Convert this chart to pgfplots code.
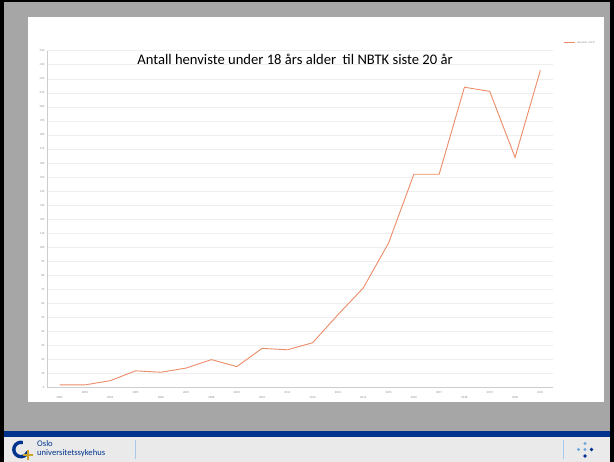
\documentclass[border=0pt]{standalone}
\usepackage{pgfplots}
\pgfplotsset{compat=1.18}
\usepackage{fontspec}
\setmainfont{Carlito}
\definecolor{slidegray}{HTML}{A6A6A6}
\definecolor{footgray}{HTML}{EAEAEA}
\definecolor{ousblue}{HTML}{00338D}
\definecolor{linecol}{HTML}{EC8C68}
\definecolor{gridc}{HTML}{EEEEEE}
\definecolor{tickc}{HTML}{8C8C8C}
\definecolor{lightblue}{HTML}{6CA7DD}
\definecolor{gold}{HTML}{C9A227}
\begin{document}
\begin{tikzpicture}
\useasboundingbox (0,0) rectangle (614pt,462pt);
\begin{scope}[x=1pt,y=-1pt,yshift=462pt]
\fill[black] (0,0) rectangle (614,462);
\fill[slidegray] (4,2) rectangle (610,431);
\fill[ousblue] (4,431) rectangle (610,437);
\fill[footgray] (4,437) rectangle (610,462);
\fill[white] (28,17) rectangle (604,402);
% footer left logo
\draw[ousblue, line width=3.4pt] (21,449.5) ++(20:7.2) arc (20:285:7.2);
\draw[gold, line width=2.6pt] (23,455) -- (33,455);
\draw[gold, line width=2.6pt] (28,450) -- (28,460);
\node[anchor=base west, inner sep=0pt, text=ousblue, font=\fontsize{8.6}{9}\selectfont] at (37,447) {Oslo};
\node[anchor=base west, inner sep=0pt, text=ousblue, font=\fontsize{8.6}{9}\selectfont] at (37,456) {universitetssykehus};
\draw[lightblue!60, line width=0.6pt] (135,440) -- (135,459);
\draw[lightblue!60, line width=0.6pt] (563,440) -- (563,459);
\fill[lightblue] (585,443.5) circle (1.6);
\fill[lightblue] (578.5,449.5) circle (1.6);
\fill[lightblue] (585,449.5) circle (1.6);
\fill[ousblue] (591.5,449.5) circle (1.8);
\fill[ousblue] (585,456) circle (1.8);
% title
\node[anchor=base, inner sep=0pt, font=\fontsize{14.6}{16}\selectfont] at (295,65) {Antall henviste under 18 års alder\ \ til NBTK siste 20 år};
\end{scope}
\begin{axis}[
  at={(47pt,74.3pt)}, anchor=south west,
  width=506pt, height=337pt, scale only axis,
  xmin=0.5, xmax=20.5, ymin=0, ymax=240,
  ytick distance=10,
  ymajorgrids, grid style={gridc, line width=0.5pt},
  axis x line=bottom, axis y line=left,
  axis line style={gridc!70!gray, line width=0.5pt, -},
  major tick length=0pt,
  /pgf/number format/assume math mode=true,
  yticklabel style={font=\fontsize{3}{3}\selectfont, text=tickc, inner sep=0pt, xshift=-2.5pt},
  xtick={1,3,...,19},
  xticklabels={2002,2004,2006,2008,2010,2012,2014,2016,2018,2020},
  xticklabel style={font=\fontsize{3}{3}\selectfont, text=tickc, inner sep=0pt, yshift=-8.3pt},
  extra x ticks={2,4,...,20},
  extra x tick labels={2003,2005,2007,2009,2011,2013,2015,2017,2019,2021},
  extra x tick style={grid=none, tick label style={yshift=5pt}},
  legend style={at={(1.02,1.023)}, anchor=west, draw=none, fill=none,
    font=\fontsize{2.8}{3}\selectfont, text=tickc, inner sep=0pt, row sep=0pt},
  legend image code/.code={\draw[#1] (0pt,0pt) -- (11pt,0pt);},
]
\addplot[linecol, line width=0.9pt] coordinates {
(1,2) (2,2) (3,5) (4,12) (5,11) (6,14) (7,20) (8,15) (9,28) (10,27)
(11,32) (12,52) (13,71) (14,103) (15,152) (16,152) (17,214) (18,211) (19,164) (20,226)};
\addlegendentry{Henviste <18 år}
\end{axis}
\end{tikzpicture}
\end{document}
